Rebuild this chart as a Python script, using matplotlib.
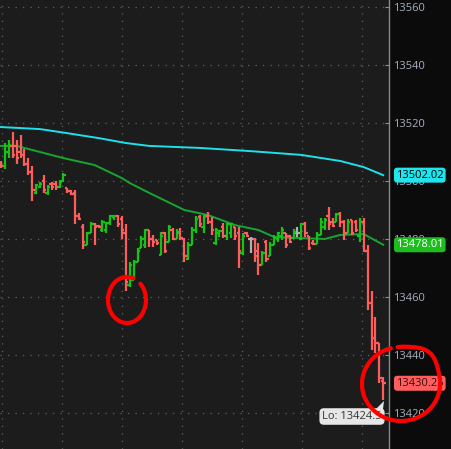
import numpy as np
import matplotlib
matplotlib.use("Agg")
import matplotlib.pyplot as plt
from matplotlib.patches import Polygon

# OHLC bars (price values)
opens = [13506, 13505, 13510, 13512, 13512, 13510, 13509, 13506, 13503, 13496,
         13498, 13500, 13496, 13499, 13499, 13498, 13500, 13497.5, 13496.5, 13496,
         13488, 13484, 13478, 13482, 13485, 13484.5, 13483, 13483, 13485.5, 13487.5,
         13488, 13487, 13482, 13464, 13466, 13472, 13477, 13478, 13483, 13480,
         13479.5, 13474.5, 13482, 13479, 13483, 13480, 13482, 13480, 13473, 13478,
         13483, 13487.5, 13484, 13488, 13486, 13478.5, 13482, 13484, 13481, 13482,
         13484, 13482, 13475, 13482, 13480, 13480, 13476, 13471, 13479, 13474,
         13478, 13480, 13481, 13482, 13481, 13480.3, 13482, 13480, 13485, 13481,
         13478.5, 13478.3, 13481.4, 13484, 13488, 13486, 13486, 13488.5, 13486, 13482,
         13486.5, 13486, 13481, 13486, 13476, 13458, 13446, 13444, 13431]
highs = [13507, 13513, 13514, 13517, 13514, 13516, 13511, 13508, 13505, 13499,
         13499.5, 13502, 13498.5, 13499.7, 13500, 13500.3, 13502.8, 13497.6, 13497, 13497,
         13489, 13485, 13482.4, 13485.9, 13485.5, 13484.8, 13486.6, 13485.9, 13488.3, 13488.3,
         13488.3, 13488, 13485, 13472, 13472.8, 13477, 13481, 13483.4, 13483.2, 13481.4,
         13479.7, 13482.4, 13482.4, 13484.8, 13483.8, 13483.4, 13483.8, 13480.3, 13479, 13484,
         13488, 13488.3, 13488.3, 13489.3, 13487.6, 13483.8, 13483.1, 13485.5, 13485.5, 13485.5,
         13484.1, 13484, 13482, 13482.4, 13480.7, 13480.3, 13478.6, 13476, 13479.7, 13479,
         13481.4, 13482.4, 13484, 13482.1, 13481.4, 13483.4, 13484.1, 13485.5, 13485.9, 13481,
         13479.7, 13482.4, 13487.2, 13487.2, 13491, 13487.2, 13489, 13489.3, 13486.6, 13487,
         13486.6, 13486.6, 13487.2, 13487.2, 13478, 13462, 13453, 13444, 13432.4]
lows = [13504.5, 13504, 13508, 13508, 13506, 13508, 13505, 13502, 13493, 13495.5,
        13497.5, 13496, 13495, 13497, 13497, 13497.5, 13499.7, 13496, 13495.2, 13485,
        13486.6, 13476.5, 13478, 13482, 13478, 13483.8, 13482.4, 13482, 13484.8, 13486.6,
        13484, 13480, 13462, 13463.5, 13466, 13472, 13477, 13477, 13477.2, 13477.2,
        13478, 13474.5, 13475, 13479, 13479.7, 13480, 13479.7, 13472, 13472.8, 13478,
        13482, 13484, 13482, 13485, 13481.4, 13478, 13480.7, 13480.3, 13479.7, 13480.3,
        13479.7, 13470, 13474.5, 13480.7, 13475, 13472, 13467.6, 13471, 13472, 13474,
        13478, 13479, 13479.7, 13477, 13478.6, 13480.3, 13480.7, 13479.7, 13480.7, 13476.2,
        13478, 13478.3, 13481.4, 13483, 13483, 13484, 13485.9, 13484, 13479.7, 13482,
        13481.4, 13482.4, 13479, 13475.5, 13455.5, 13441.7, 13440.7, 13430.3, 13424.5]
closes = [13505, 13512, 13512.5, 13509, 13508, 13509, 13506, 13503, 13497, 13498.5,
          13499, 13497, 13498, 13498, 13498, 13499.5, 13502, 13496.5, 13495.5, 13488,
          13487, 13479, 13482, 13485, 13484, 13484, 13486, 13485.5, 13488, 13488,
          13485, 13483, 13465, 13471, 13472, 13476, 13480, 13483, 13480, 13479,
          13478.5, 13481, 13476, 13484, 13480, 13482.5, 13480.5, 13474, 13478, 13483,
          13487, 13485, 13487.5, 13486, 13483, 13483, 13482.8, 13481, 13485, 13485,
          13481, 13476, 13481, 13481, 13480, 13474, 13471, 13475, 13473, 13478,
          13480.5, 13482, 13483, 13478, 13479, 13482.5, 13482, 13485, 13482, 13477,
          13478.2, 13481.5, 13486, 13486.5, 13485, 13484.5, 13488.5, 13486, 13482, 13486,
          13482, 13483, 13486, 13476, 13458, 13446, 13444, 13432, 13430.25]

# moving averages, read at a few bar positions
ma_slow_idx = [0, 10, 16, 25, 32, 38, 51, 64, 77, 87, 93, 98]
ma_slow = [13518.6, 13517.9, 13516.7, 13514.8, 13513.1, 13512.1, 13511.4,
           13510.3, 13509.0, 13506.9, 13504.8, 13502.02]
ma_fast_idx = [0, 4, 8, 16, 24, 31, 33, 38, 47, 53, 60, 66, 70, 77, 83, 87, 93, 98]
ma_fast = [13512.1, 13512.1, 13510.7, 13507.9, 13505.5, 13501.0, 13499.3, 13495.9,
           13490.0, 13488.3, 13484.8, 13483.1, 13480.7, 13480.3, 13480.0, 13481.4,
           13481.7, 13478.01]

price_ticks = [13420, 13440, 13460, 13480, 13500, 13520, 13540, 13560]
lo_value = 13424.5

W, H = 451, 449
PLOT_W = 389
STEP = 3.9  # px per bar

fig = plt.figure(figsize=(W / 100, H / 100), dpi=100, facecolor="#0b0b0b")
ax = fig.add_axes([0, 0, PLOT_W / W, 1], facecolor="#1c1c1c")

o = np.array(opens); h = np.array(highs); l = np.array(lows); c = np.array(closes)
x = np.arange(len(o))
cols = np.where(c > o, "#14c414", np.where(c < o, "#ff5c5c", "#b0b0b0"))

ax.vlines(x, l, h, colors=cols, lw=1.6, zorder=3)
ax.hlines(o, x - 0.6, x, colors=cols, lw=1.6, zorder=3)
ax.hlines(c, x, x + 0.6, colors=cols, lw=1.6, zorder=3)

ax.plot(ma_slow_idx, ma_slow, color="#1fe0e8", lw=1.4, zorder=2)
ax.plot(ma_fast_idx, ma_fast, color="#17a532", lw=1.4, zorder=2)

ax.set_xlim(-1 / STEP, (PLOT_W - 1) / STEP)
ax.set_ylim(13560 - (H - 7) / 2.9, 13560 + 7 / 2.9)

# grid
grid_x = [(px - 1) / STEP for px in range(2, PLOT_W, 60)]
ax.set_xticks(grid_x)
ax.set_yticks(price_ticks)
ax.grid(True, color="#606060", lw=0.9, ls=(0, (1, 5)))
ax.tick_params(axis="x", length=0, labelbottom=False)
ax.yaxis.tick_right()
ax.tick_params(axis="y", direction="in", length=3, color="#909090", pad=3,
               labelsize=8, labelcolor="#a7b0bf")
for lab in ax.get_yticklabels():
    lab.set_fontfamily("Open Sans")
for s in ["top", "left", "bottom"]:
    ax.spines[s].set_visible(False)
ax.spines["right"].set_color("#8a8a8a")
ax.spines["right"].set_linewidth(1.0)

# price labels on the axis
ytr = ax.get_yaxis_transform()
def price_tag(val, fc, tc):
    ax.text(1.018, val, f"{val:.2f}", transform=ytr, ha="left", va="center",
            fontsize=8, family="Open Sans", color=tc, zorder=10, clip_on=False,
            bbox=dict(boxstyle="round,pad=0.18,rounding_size=0.3", fc=fc, ec="none"))

price_tag(ma_slow[-1], "#1fe6ee", "#000000")
price_tag(ma_fast[-1], "#1dbd1d", "#ffffff")
price_tag(closes[-1], "#ff5e5e", "#3a0a0a")

# overlay for annotations in pixel coordinates
ov = fig.add_axes([0, 0, 1, 1], facecolor="none")
ov.set_xlim(0, W)
ov.set_ylim(H, 0)
ov.axis("off")

# "Lo" callout
ov.text(352, 416.5, f"Lo: {lo_value}", ha="center", va="center", fontsize=8,
        family="Open Sans", color="#333333", zorder=5,
        bbox=dict(boxstyle="round,pad=0.25,rounding_size=0.4", fc="#e6e6e6", ec="none"))
ov.add_patch(Polygon([[376, 409], [384, 401], [383, 409]], closed=True,
                     fc="#e6e6e6", ec="none", zorder=5))

# hand-drawn red circles
t = np.radians(np.linspace(-45, 290, 200))
ov.plot(127 + 19 * np.cos(t), 300 + 23 * np.sin(t), color="#ff0000", lw=3,
        solid_capstyle="round", zorder=6)
t2 = np.radians(np.linspace(-95, 255, 240))
r = 1 + 0.12 * np.exp(-((t2 - np.radians(-50)) / 0.4) ** 2)
ov.plot(401 + 39 * r * np.cos(t2), 384 + 37 * r * np.sin(t2), color="#ff0000", lw=3,
        solid_capstyle="round", zorder=6)

fig.savefig("out.png", dpi=100, facecolor=fig.get_facecolor())
